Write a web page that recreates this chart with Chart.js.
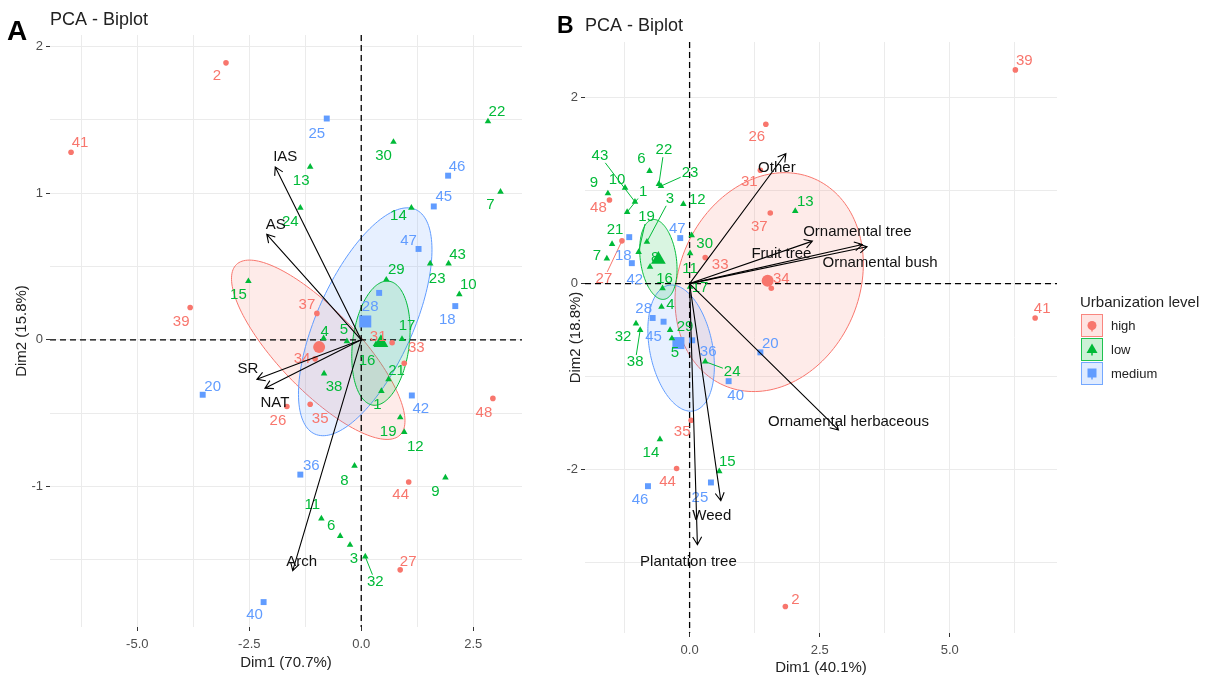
<!DOCTYPE html>
<html><head><meta charset="utf-8">
<script src="https://cdn.jsdelivr.net/npm/chart.js@4"></script>
<style>
html,body{margin:0;padding:0;background:#fff;}
#wrap{position:relative;width:1213px;height:678px;overflow:hidden;background:#fff;}
canvas{position:absolute;top:0;}
#cA{left:0;} #cB{left:540px;}
</style></head><body>
<div id="wrap"><canvas id="cA" width="540" height="678"></canvas><canvas id="cB" width="673" height="678"></canvas></div>
<script>
// ---------------- DATA: Panel A (Dim1 70.7% / Dim2 15.8%) ----------------
const aHighIds = [2, 41, 39, 37, 34, 26, 35, 31, 33, 48, 44, 27];
const aHighX   = [-3.02, -6.48, -3.82, -0.99, -1.03, -1.66, -1.14, 0.69, 0.96, 2.94, 1.06, 0.87];
const aHighY   = [1.89, 1.28, 0.22, 0.18, -0.13, -0.455, -0.44, -0.02, -0.16, -0.40, -0.97, -1.57];
const aLowIds  = [22, 30, 13, 7, 14, 24, 15, 29, 43, 23, 10, 17, 5, 4, 16, 38, 21, 1, 19, 12, 8, 9, 11, 6, 3, 32];
const aLowX    = [2.83, 0.72, -1.14, 3.11, 1.12, -1.36, -2.52, 0.56, 1.95, 1.54, 2.19, 0.91, -0.32, -0.84, 0.33, -0.83, 0.61, 0.45, 0.87, 0.96, -0.15, 1.88, -0.89, -0.47, -0.25, 0.09];
const aLowY    = [1.49, 1.35, 1.18, 1.01, 0.90, 0.90, 0.40, 0.41, 0.52, 0.52, 0.31, 0.005, -0.01, 0.01, -0.03, -0.23, -0.27, -0.35, -0.53, -0.63, -0.86, -0.94, -1.22, -1.34, -1.40, -1.48];
const aMedIds  = [25, 46, 45, 47, 28, 18, 42, 20, 36, 40];
const aMedX    = [-0.77, 1.94, 1.62, 1.28, 0.40, 2.10, 1.13, -3.54, -1.36, -2.18];
const aMedY    = [1.51, 1.12, 0.91, 0.62, 0.32, 0.23, -0.38, -0.375, -0.92, -1.79];
const aCentX   = [-0.94, 0.44, 0.09];   // high, low, medium
const aCentY   = [-0.05, -0.02, 0.125];
const aVarNames = ['IAS', 'AS', 'SR', 'NAT', 'Arch'];
const aVarX    = [-1.92, -2.11, -2.33, -2.15, -1.53];
const aVarY    = [1.18, 0.72, -0.27, -0.33, -1.575];
// ellipse: centre x,y, semi-axis 1 (dx,dy), semi-axis 2 (dx,dy)
const aEllHigh = [-0.96, -0.068, 1.826, -0.582, -0.646, -0.189];
const aEllLow  = [0.44, -0.023, 0.179, 0.423, 0.626, -0.027];
const aEllMed  = [0.089, 0.123, 1.126, 0.766, 0.977, -0.134];
const aXTicks = [-5.0, -2.5, 0.0, 2.5];
const aXMinor = [-6.25, -3.75, -1.25, 1.25];
const aYTicks = [-1, 0, 1, 2];
const aYMinor = [-1.5, -0.5, 0.5, 1.5];

// ---------------- DATA: Panel B (Dim1 40.1% / Dim2 18.8%) ----------------
const bHighIds = [39, 41, 26, 31, 37, 34, 33, 27, 48, 35, 44, 2];
const bHighX   = [6.26, 6.64, 1.465, 1.36, 1.55, 1.57, 0.30, -1.30, -1.54, 0.03, -0.25, 1.84];
const bHighY   = [2.30, -0.37, 1.715, 1.22, 0.76, -0.05, 0.28, 0.46, 0.90, -1.47, -1.99, -3.475];
const bLowIds  = [43, 6, 22, 23, 9, 10, 1, 3, 12, 19, 21, 7, 30, 11, 16, 17, 8, 4, 29, 5, 32, 38, 24, 13, 15, 14];
const bLowX    = [-1.05, -0.77, -0.59, -0.55, -1.57, -1.24, -1.20, -0.82, -0.12, -0.98, -1.49, -1.59, 0.04, 0.01, -0.52, 0.01, -0.76, -0.54, -0.375, -0.34, -1.03, -0.95, 0.30, 2.03, 0.57, -0.57];
const bLowY    = [0.88, 1.21, 1.07, 1.05, 0.97, 1.03, 0.77, 0.45, 0.855, 0.34, 0.425, 0.27, 0.52, 0.325, -0.05, -0.035, 0.18, -0.25, -0.50, -0.59, -0.43, -0.50, -0.84, 0.78, -2.02, -1.675];
const bMedIds  = [47, 18, 42, 28, 45, 36, 40, 20, 25, 46];
const bMedX    = [-0.18, -1.16, -1.11, -0.71, -0.50, 0.05, 0.75, 1.36, 0.41, -0.80];
const bMedY    = [0.49, 0.50, 0.22, -0.37, -0.41, -0.61, -1.05, -0.74, -2.14, -2.18];
const bCentX   = [1.50, -0.60, -0.215];
const bCentY   = [0.03, 0.26, -0.64];
const bVarNames = ['Other', 'Fruit tree', 'Ornamental tree', 'Ornamental bush', 'Ornamental herbaceous', 'Weed', 'Plantation tree'];
const bVarX    = [1.85, 2.36, 3.32, 3.41, 2.86, 0.60, 0.15];
const bVarY    = [1.40, 0.457, 0.42, 0.396, -1.575, -2.335, -2.81];
const bEllHigh = [1.529, 0.016, 0.869, 1.112, 1.587, -0.388];
const bEllLow  = [-0.60, 0.26, -0.096, 0.43, 0.346, 0.011];
const bEllMed  = [-0.163, -0.694, 0.231, -0.677, 0.596, 0.054];
const bXTicks = [0.0, 2.5, 5.0];
const bXMinor = [-1.25, 1.25, 3.75, 6.25];
const bYTicks = [-2, 0, 2];
const bYMinor = [-3, -1, 1];

const levels = ['high', 'low', 'medium'];

// ---------------- LAYOUT / STYLE (label offsets in px) ----------------
const labOffA = {2:[-9,13],41:[9,-9],39:[-9,14],37:[-10,-9],34:[-13,0],26:[-9,14],35:[10,15],31:[-14,-6],33:[12,-15],48:[-9,14],44:[-8,13],27:[8,-8],
 22:[9,-10],30:[-10,14],13:[-9,14],7:[-10,13],14:[-13,8],24:[-10,14],15:[-10,14],29:[10,-10],43:[9,-9],23:[7,15],10:[9,-10],17:[5,-13],5:[-3,-11],4:[1,-6],16:[-9,17],38:[10,13],21:[8,-8],1:[-4,14],19:[-12,14],12:[11,15],8:[-10,15],9:[-10,14],11:[-9,-14],6:[-9,-10],3:[4,14],32:[10,25],
 25:[-10,15],46:[9,-9],45:[10,-10],47:[-10,-8],28:[-9,14],18:[-8,14],42:[9,13],20:[10,-8],36:[11,-9],40:[-9,13]};
const labOffB = {39:[9,-9],41:[7,-9],26:[-9,13],31:[-11,12],37:[-11,14],34:[10,-9],33:[15,7],27:[-18,38],48:[-11,8],35:[-9,12],44:[-9,13],2:[10,-7],
 43:[-35,-46],6:[-8,-12],22:[5,-34],23:[29,-13],9:[-14,-11],10:[-8,-8],1:[16,-20],3:[23,-43],12:[14,-4],19:[8,-35],21:[3,-14],7:[-10,-3],30:[13,9],11:[0,15],16:[2,-9],17:[10,1],8:[5,-9],4:[9,-2],29:[15,-3],5:[3,14],32:[-13,13],38:[-5,32],24:[27,10],13:[10,-9],15:[8,-9],14:[-9,14],
 47:[-3,-9],18:[-6,19],42:[3,17],28:[-9,-9],45:[-10,15],36:[16,12],40:[7,15],20:[10,-9],25:[-11,15],46:[-8,14]};
const varOffA = [[10,-10],[9,-9],[-9,-10],[10,15],[9,-9]];
const varOffB = [[-9,14],[-31,13],[-5,-13],[13,16],[10,-8],[-9,15],[-9,17]];

const FONT = '"Liberation Sans", Arial, Helvetica, sans-serif';
const COL = { high: '#F8766D', low: '#00BA38', medium: '#619CFF' };
const STYLE = { high: 'circle', low: 'triangle', medium: 'rect' };
const RAD = { high: 2.8, low: 3.8, medium: 4.2 };
const RADC = { high: 6, low: 8.5, medium: 8.5 };
function rgba(hex, a){ const n = parseInt(hex.slice(1),16); return `rgba(${n>>16},${(n>>8)&255},${n&255},${a})`; }

function makePlugin(P){
  return {
    id: 'biplot' + P.key,
    beforeDatasetsDraw(chart){
      const ctx = chart.ctx, a = chart.chartArea, sx = chart.scales.x, sy = chart.scales.y;
      ctx.save();
      ctx.beginPath(); ctx.rect(a.left, a.top, a.right - a.left, a.bottom - a.top); ctx.clip();
      P.ellipses.forEach(([g, e]) => {
        ctx.beginPath();
        for (let k = 0; k <= 160; k++) {
          const t = k / 160 * 2 * Math.PI;
          const px = sx.getPixelForValue(e[0] + e[2]*Math.cos(t) + e[4]*Math.sin(t));
          const py = sy.getPixelForValue(e[1] + e[3]*Math.cos(t) + e[5]*Math.sin(t));
          if (k) ctx.lineTo(px, py); else ctx.moveTo(px, py);
        }
        ctx.closePath();
        ctx.fillStyle = rgba(COL[g], 0.15); ctx.fill();
        ctx.strokeStyle = COL[g]; ctx.lineWidth = 1; ctx.stroke();
      });
      const x0 = sx.getPixelForValue(0), y0 = sy.getPixelForValue(0);
      ctx.setLineDash([6, 4]); ctx.strokeStyle = '#000'; ctx.lineWidth = 1.3;
      ctx.beginPath(); ctx.moveTo(x0, a.top); ctx.lineTo(x0, a.bottom); ctx.stroke();
      ctx.beginPath(); ctx.moveTo(a.left, y0); ctx.lineTo(a.right, y0); ctx.stroke();
      ctx.restore();
    },
    afterDatasetsDraw(chart){
      const ctx = chart.ctx, sx = chart.scales.x, sy = chart.scales.y;
      ctx.save();
      // point labels
      ctx.font = '15px ' + FONT; ctx.textAlign = 'center'; ctx.textBaseline = 'middle';
      P.groups.forEach(g => {
        g.ids.forEach((id, i) => {
          const px = sx.getPixelForValue(g.x[i]), py = sy.getPixelForValue(g.y[i]);
          const off = P.labOff[id] || [8, -8];
          const lx = px + off[0], ly = py + off[1];
          const txt = String(id);
          const d = Math.hypot(off[0], off[1]);
          if (d > 22) {
            const hw = ctx.measureText(txt).width/2 + 1, hh = 7;
            const dx = px - lx, dy = py - ly;
            const t = Math.min(Math.abs(dx) > 0 ? hw/Math.abs(dx) : 1e9, Math.abs(dy) > 0 ? hh/Math.abs(dy) : 1e9);
            ctx.strokeStyle = COL[g.name]; ctx.lineWidth = 1;
            ctx.beginPath(); ctx.moveTo(px, py); ctx.lineTo(lx + dx*t, ly + dy*t); ctx.stroke();
          }
          ctx.fillStyle = COL[g.name];
          ctx.fillText(txt, lx, ly);
        });
      });
      // arrows
      const ox = sx.getPixelForValue(0), oy = sy.getPixelForValue(0);
      ctx.strokeStyle = '#000'; ctx.lineWidth = 1.1;
      P.vars.x.forEach((vx, i) => {
        const ex = sx.getPixelForValue(vx), ey = sy.getPixelForValue(P.vars.y[i]);
        const ang = Math.atan2(ey - oy, ex - ox), L = 9, ph = Math.PI/6;
        ctx.beginPath(); ctx.moveTo(ox, oy); ctx.lineTo(ex, ey);
        ctx.moveTo(ex - L*Math.cos(ang - ph), ey - L*Math.sin(ang - ph));
        ctx.lineTo(ex, ey);
        ctx.lineTo(ex - L*Math.cos(ang + ph), ey - L*Math.sin(ang + ph));
        ctx.stroke();
      });
      ctx.fillStyle = '#111'; ctx.font = '15px ' + FONT;
      P.vars.names.forEach((n, i) => {
        const ex = sx.getPixelForValue(P.vars.x[i]), ey = sy.getPixelForValue(P.vars.y[i]);
        ctx.fillText(n, ex + P.vars.off[i][0], ey + P.vars.off[i][1]);
      });
      ctx.restore();
    },
    afterDraw(chart){
      const ctx = chart.ctx;
      ctx.save();
      ctx.textBaseline = 'alphabetic'; ctx.textAlign = 'left';
      ctx.fillStyle = '#000'; ctx.font = 'bold ' + P.letter.size + 'px ' + FONT;
      ctx.fillText(P.letter.text, P.letter.x, P.letter.y);
      ctx.fillStyle = '#222'; ctx.font = '18px ' + FONT;
      ctx.fillText('PCA - Biplot', P.title.x, P.title.y);
      if (P.legend) {
        const L = P.legend;
        ctx.font = '15px ' + FONT; ctx.fillStyle = '#222';
        ctx.fillText('Urbanization level', L.x, L.y);
        levels.forEach((g, i) => {
          const bx = L.x + 1, by = L.y + 7 + i*24, w = 22, h = 23;
          ctx.fillStyle = rgba(COL[g], 0.2); ctx.fillRect(bx, by, w, h);
          ctx.strokeStyle = rgba(COL[g], 0.85); ctx.lineWidth = 1; ctx.strokeRect(bx + 0.5, by + 0.5, w - 1, h - 1);
          const cx = bx + w/2, cy = by + h/2;
          ctx.strokeStyle = COL[g]; ctx.lineWidth = 1.5;
          ctx.beginPath(); ctx.moveTo(cx, cy); ctx.lineTo(cx, cy + 6); ctx.stroke();
          ctx.fillStyle = COL[g];
          ctx.beginPath();
          if (g === 'high') ctx.arc(cx, cy, 4.5, 0, 2*Math.PI);
          else if (g === 'low') { ctx.moveTo(cx, cy - 6); ctx.lineTo(cx + 5.5, cy + 3.5); ctx.lineTo(cx - 5.5, cy + 3.5); ctx.closePath(); }
          else ctx.rect(cx - 4.5, cy - 5, 9, 9);
          ctx.fill();
          ctx.fillStyle = '#222'; ctx.font = '13px ' + FONT; ctx.textBaseline = 'middle';
          ctx.fillText(g, L.x + 31, cy + 1);
          ctx.textBaseline = 'alphabetic'; ctx.font = '15px ' + FONT;
        });
      }
      ctx.restore();
    }
  };
}

function axisOpts(min, max, major, minor, fmt, title, fixedSize, horizontal, titlePad){
  const all = major.concat(minor).sort((p, q) => p - q);
  return {
    type: 'linear', min: min, max: max,
    afterBuildTicks: ax => { ax.ticks = all.map(v => ({ value: v })); },
    afterFit: s => { if (horizontal) s.height = fixedSize; else s.width = fixedSize; },
    grid: { color: '#ebebeb', lineWidth: 1, drawTicks: true, tickLength: 4, tickWidth: 1,
            tickColor: c => (c.tick && major.includes(c.tick.value)) ? '#333' : 'rgba(0,0,0,0)' },
    border: { display: false },
    ticks: { autoSkip: false, maxRotation: 0, padding: horizontal ? 6 : 3, color: '#4d4d4d', font: { family: FONT, size: 13 },
             callback: v => major.includes(v) ? fmt(v) : '' },
    title: { display: true, text: title, color: '#222', font: { family: FONT, size: 15 }, padding: titlePad }
  };
}

function buildPanel(id, P, opt){
  const datasets = [];
  P.groups.forEach(g => {
    datasets.push({ label: g.name, data: g.x.map((x, i) => ({ x: x, y: g.y[i] })),
      pointStyle: STYLE[g.name], pointRadius: RAD[g.name], pointHoverRadius: RAD[g.name],
      backgroundColor: COL[g.name], borderColor: COL[g.name], borderWidth: 0, showLine: false });
  });
  levels.forEach((g, i) => {
    datasets.push({ label: g + ' mean', data: [{ x: P.cent.x[i], y: P.cent.y[i] }],
      pointStyle: STYLE[g], pointRadius: RADC[g], pointHoverRadius: RADC[g],
      backgroundColor: COL[g], borderColor: COL[g], borderWidth: 0, showLine: false });
  });
  new Chart(document.getElementById(id), {
    type: 'scatter',
    data: { datasets: datasets },
    options: {
      responsive: false, animation: false, devicePixelRatio: 1,
      layout: { padding: opt.padding, autoPadding: false },
      plugins: { legend: { display: false }, tooltip: { enabled: false } },
      events: [],
      scales: { x: opt.x, y: opt.y }
    },
    plugins: [makePlugin(P)]
  });
}

const PA = {
  key: 'A',
  groups: [ { name: 'high', ids: aHighIds, x: aHighX, y: aHighY },
            { name: 'low', ids: aLowIds, x: aLowX, y: aLowY },
            { name: 'medium', ids: aMedIds, x: aMedX, y: aMedY } ],
  cent: { x: aCentX, y: aCentY },
  vars: { names: aVarNames, x: aVarX, y: aVarY, off: varOffA },
  ellipses: [['high', aEllHigh], ['medium', aEllMed], ['low', aEllLow]],
  labOff: labOffA,
  letter: { text: 'A', size: 28, x: 7, y: 40 },
  title: { x: 50, y: 25 }
};
const PB = {
  key: 'B',
  groups: [ { name: 'high', ids: bHighIds, x: bHighX, y: bHighY },
            { name: 'low', ids: bLowIds, x: bLowX, y: bLowY },
            { name: 'medium', ids: bMedIds, x: bMedX, y: bMedY } ],
  cent: { x: bCentX, y: bCentY },
  vars: { names: bVarNames, x: bVarX, y: bVarY, off: varOffB },
  ellipses: [['high', bEllHigh], ['medium', bEllMed], ['low', bEllLow]],
  labOff: labOffB,
  letter: { text: 'B', size: 23, x: 17, y: 33 },
  title: { x: 45, y: 31 },
  legend: { x: 540, y: 307 }
};

const fx = v => v.toFixed(1), fy = v => String(v);
buildPanel('cA', PA, {
  padding: { left: 0, top: 35, right: 18, bottom: 0 },
  x: axisOpts(-6.95, 3.59, aXTicks, aXMinor, fx, 'Dim1 (70.7%)', 51, true, { top: 0, bottom: 6 }),
  y: axisOpts(-1.96, 2.08, aYTicks, aYMinor, fy, 'Dim2 (15.8%)', 50, false, { top: 13, bottom: 0 })
});
buildPanel('cB', PB, {
  padding: { left: 0, top: 42, right: 156, bottom: 0 },
  x: axisOpts(-2.01, 7.06, bXTicks, bXMinor, fx, 'Dim1 (40.1%)', 45, true, { top: 0, bottom: 1 }),
  y: axisOpts(-3.76, 2.60, bYTicks, bYMinor, fy, 'Dim2 (18.8%)', 45, false, { top: 27, bottom: 0 })
});
</script>
</body></html>
